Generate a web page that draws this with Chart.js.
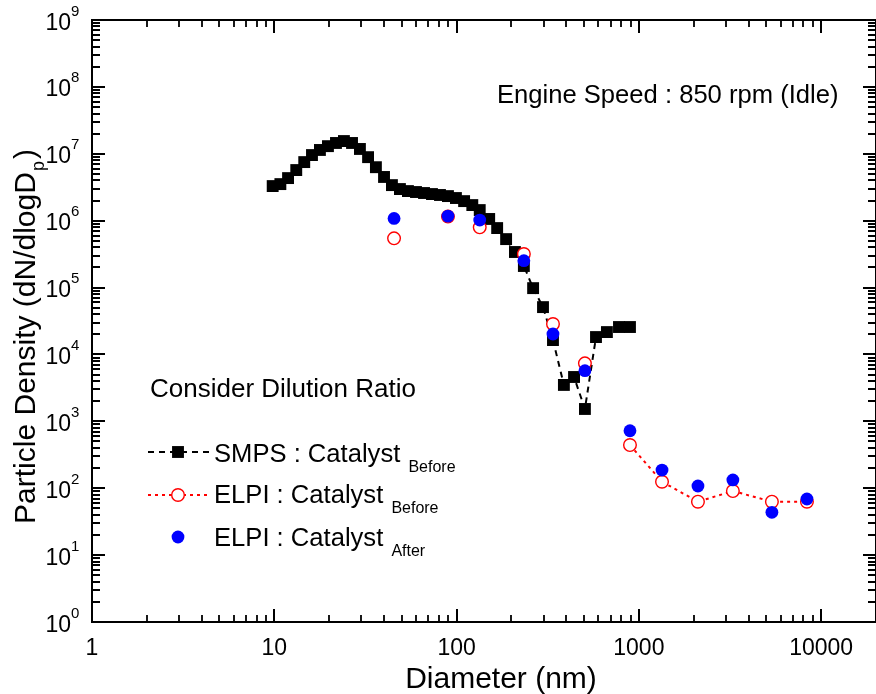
<!DOCTYPE html>
<html>
<head>
<meta charset="utf-8">
<script src="https://cdn.jsdelivr.net/npm/chart.js@4.4.1/dist/chart.umd.min.js"></script>
<style>
  body { margin: 0; background: #fff; }
</style>
</head>
<body>
<canvas id="chart" width="876" height="694"></canvas>
<script>
// SMPS, catalyst before (nm, dN/dlogDp)
var smpsDiameter = [9.8, 10.8, 11.9, 13.2, 14.6, 16.1, 17.8, 19.7, 21.8, 24.1,
  26.7, 29.5, 32.7, 36.1, 40.0, 44.2, 48.9, 54.1, 59.9, 66.3,
  73.3, 81.1, 89.7, 99.2, 110, 122, 134, 151, 167, 187,
  209, 234, 263, 298, 338, 388, 441, 506, 582, 668,
  778, 894];
var smpsDensity = [3.29e6, 3.52e6, 4.33e6, 5.71e6, 7.51e6, 9.57e6, 1.14e7, 1.30e7, 1.45e7, 1.55e7,
  1.45e7, 1.18e7, 8.9e6, 6.3e6, 4.5e6, 3.4e6, 2.97e6, 2.77e6, 2.68e6, 2.59e6,
  2.50e6, 2.42e6, 2.33e6, 2.18e6, 1.96e6, 1.71e6, 1.44e6, 1.06e6, 7.75e5, 5.3e5,
  3.4e5, 2.1e5, 9.8e4, 5.1e4, 1.64e4, 3.5e3, 4.6e3, 1.53e3, 1.82e4, 2.16e4,
  2.57e4, 2.57e4];

// ELPI stages
var elpiDiameter = [45.4, 89.7, 134, 234, 338, 506, 894, 1340, 2110, 3280, 5370, 8360];
var elpiBefore = [5.44e5, 1.15e6, 7.94e5, 3.17e5, 2.85e4, 7.36e3, 442, 125, 62.9, 90.8, 62.9, 62.9];
var elpiAfter = [1.08e6, 1.17e6, 1.02e6, 2.52e5, 2.02e4, 5.71e3, 723, 187, 108, 133, 43.6, 69];

var xTickValues = [1, 10, 100, 1000, 10000];
var xTickLabels = ['1', '10', '100', '1000', '10000'];
var yTickExponents = [0, 1, 2, 3, 4, 5, 6, 7, 8, 9];

var FONT = "'Liberation Sans', Arial, Helvetica, sans-serif";

function toPoints(xs, ys) {
  var out = [];
  for (var i = 0; i < xs.length; i++) out.push({x: xs[i], y: ys[i]});
  return out;
}

var frame = {
  id: 'frame',
  afterDraw: function(chart) {
    var ctx = chart.ctx;
    var a = chart.chartArea;
    var xs = chart.scales.x;
    var ys = chart.scales.y;
    ctx.save();
    ctx.strokeStyle = '#000';
    ctx.fillStyle = '#000';
    ctx.lineWidth = 2;
    ctx.strokeRect(a.left, a.top, a.right - a.left, a.bottom - a.top);

    function xTick(v, len) {
      var px = Math.round(xs.getPixelForValue(v));
      ctx.beginPath();
      ctx.moveTo(px, a.bottom); ctx.lineTo(px, a.bottom - len);
      ctx.moveTo(px, a.top); ctx.lineTo(px, a.top + len);
      ctx.stroke();
    }
    function yTick(v, len) {
      var py = Math.round(ys.getPixelForValue(v));
      ctx.beginPath();
      ctx.moveTo(a.left, py); ctx.lineTo(a.left + len, py);
      ctx.moveTo(a.right, py); ctx.lineTo(a.right - len, py);
      ctx.stroke();
    }

    // x ticks
    for (var i = 0; i < xTickValues.length; i++) {
      ctx.lineWidth = 2;
      xTick(xTickValues[i], 13);
      ctx.lineWidth = 1.8;
      for (var k = 2; k <= 9; k++) {
        var v = k * xTickValues[i];
        if (v < xs.max) xTick(v, 7);
      }
    }
    // y ticks
    for (var j = 0; j < yTickExponents.length; j++) {
      var base = Math.pow(10, yTickExponents[j]);
      ctx.lineWidth = 2;
      yTick(base, 13);
      if (j < yTickExponents.length - 1) {
        ctx.lineWidth = 1.8;
        for (var m = 2; m <= 9; m++) yTick(m * base, 8);
      }
    }

    // x tick labels
    ctx.font = '23px ' + FONT;
    ctx.textAlign = 'center';
    ctx.textBaseline = 'alphabetic';
    for (var i2 = 0; i2 < xTickValues.length; i2++) {
      ctx.fillText(xTickLabels[i2], xs.getPixelForValue(xTickValues[i2]), 655);
    }
    // y tick labels 10^n
    for (var j2 = 0; j2 < yTickExponents.length; j2++) {
      var py = ys.getPixelForValue(Math.pow(10, yTickExponents[j2]));
      ctx.font = '23px ' + FONT;
      ctx.textAlign = 'right';
      ctx.fillText('10', 71, py + 9.5);
      ctx.font = '15px ' + FONT;
      ctx.textAlign = 'left';
      ctx.fillText(String(yTickExponents[j2]), 71, py - 4.5);
    }

    // axis titles
    ctx.font = '30px ' + FONT;
    ctx.textAlign = 'center';
    ctx.fillText('Diameter (nm)', 501, 688);

    ctx.save();
    ctx.translate(35, 338);
    ctx.rotate(-Math.PI / 2);
    ctx.textAlign = 'left';
    var t1 = 'Particle Density (dN/dlogD';
    ctx.font = '30px ' + FONT;
    var w1 = ctx.measureText(t1).width;
    var w3 = ctx.measureText(')').width;
    ctx.font = '18px ' + FONT;
    var w2 = ctx.measureText('p').width;
    var x0 = -(w1 + w2 + w3) / 2;
    ctx.font = '30px ' + FONT;
    ctx.fillText(t1, x0, 0);
    ctx.font = '18px ' + FONT;
    ctx.fillText('p', x0 + w1 + 1, 9);
    ctx.font = '30px ' + FONT;
    ctx.fillText(')', x0 + w1 + w2 + 3, 0);
    ctx.restore();

    // annotations
    ctx.textAlign = 'left';
    ctx.font = '25.6px ' + FONT;
    ctx.fillText('Engine Speed : 850 rpm (Idle)', 497, 103);
    ctx.font = '26px ' + FONT;
    ctx.fillText('Consider Dilution Ratio', 150, 397);

    // legend
    var ds = chart.data.datasets;
    var rows = [
      {d: ds[0], y: 452, base: 462, main: 'SMPS : Catalyst', sub: 'Before', shape: 'rect'},
      {d: ds[1], y: 495, base: 503, main: 'ELPI : Catalyst', sub: 'Before', shape: 'circle'},
      {d: ds[2], y: 537, base: 546, main: 'ELPI : Catalyst', sub: 'After', shape: 'circle'}
    ];
    rows.forEach(function(r) {
      if (r.d.showLine !== false) {
        ctx.save();
        ctx.strokeStyle = r.d.borderColor;
        ctx.lineWidth = r.d.borderWidth;
        ctx.setLineDash(r.d.borderDash);
        ctx.beginPath();
        ctx.moveTo(148, r.y); ctx.lineTo(209, r.y);
        ctx.stroke();
        ctx.restore();
      }
      ctx.save();
      ctx.fillStyle = r.d.pointBackgroundColor;
      ctx.strokeStyle = r.d.pointBorderColor;
      ctx.lineWidth = r.d.pointBorderWidth;
      ctx.beginPath();
      if (r.shape === 'rect') {
        var s = r.d.pointRadius * Math.SQRT1_2;
        ctx.rect(178 - s, r.y - s, 2 * s, 2 * s);
      } else {
        ctx.arc(178, r.y, r.d.pointRadius, 0, Math.PI * 2);
      }
      ctx.fill();
      if (r.d.pointBorderWidth > 0) ctx.stroke();
      ctx.restore();

      ctx.fillStyle = '#000';
      ctx.font = '25.6px ' + FONT;
      ctx.fillText(r.main, 214, r.base);
      var mw = ctx.measureText(r.main + ' ').width;
      ctx.font = '16px ' + FONT;
      ctx.fillText(r.sub, 214 + mw + 1, r.base + 10);
    });
    ctx.restore();
  }
};

var ctx = document.getElementById('chart').getContext('2d');

var chart = new Chart(ctx, {
  type: 'scatter',
  data: {
    datasets: [
      {
        label: 'SMPS : Catalyst Before',
        data: toPoints(smpsDiameter, smpsDensity),
        showLine: true,
        borderColor: '#000',
        borderWidth: 2,
        borderDash: [6, 5],
        pointStyle: 'rect',
        pointRadius: 8.4,
        pointBorderWidth: 0,
        pointBackgroundColor: '#000',
        pointBorderColor: '#000',
        order: 3
      },
      {
        label: 'ELPI : Catalyst Before',
        data: toPoints(elpiDiameter, elpiBefore),
        showLine: true,
        borderColor: '#ff0000',
        borderWidth: 2,
        borderDash: [3, 4],
        segment: {
          borderColor: function(c) { return c.p0DataIndex < 6 ? 'rgba(0,0,0,0)' : '#ff0000'; }
        },
        pointStyle: 'circle',
        pointRadius: 6.3,
        pointBorderWidth: 1.4,
        pointBackgroundColor: '#fff',
        pointBorderColor: '#ff0000',
        order: 2
      },
      {
        label: 'ELPI : Catalyst After',
        data: toPoints(elpiDiameter, elpiAfter),
        showLine: false,
        borderColor: '#0000ff',
        borderWidth: 0,
        borderDash: [],
        pointStyle: 'circle',
        pointRadius: 6.4,
        pointBorderWidth: 0,
        pointBackgroundColor: '#0000ff',
        pointBorderColor: '#0000ff',
        order: 1
      }
    ]
  },
  plugins: [frame],
  options: {
    responsive: false,
    animation: false,
    layout: {
      autoPadding: false,
      padding: { left: 92, top: 20, right: 0, bottom: 72 }
    },
    plugins: {
      legend: { display: false },
      tooltip: { enabled: false }
    },
    scales: {
      x: {
        type: 'logarithmic',
        min: 1,
        max: 20000,
        display: false
      },
      y: {
        type: 'logarithmic',
        min: 1,
        max: 1e9,
        display: false
      }
    }
  }
});
</script>
</body>
</html>
